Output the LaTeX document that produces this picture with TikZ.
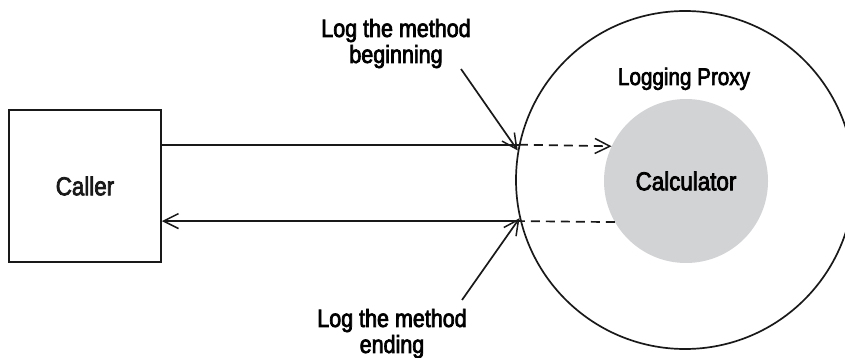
\documentclass[tikz,border=0pt]{standalone}
\usepackage{fontspec}
\setmainfont{Liberation Sans}[FakeStretch=0.86, FakeBold=2.8]
\usetikzlibrary{arrows.meta, positioning}
\definecolor{calcgray}{RGB}{210,211,213}

\begin{document}
\begin{tikzpicture}[x=1pt, y=-1pt, >={Straight Barb[length=15pt, width=15pt, line width=1.5pt]},
    line/.style={line width=1.7pt, black!90},
    dashline/.style={line, dash pattern=on 9pt off 6pt},
    lbl/.style={align=center, inner sep=0pt, font=\fontsize{25}{26}\selectfont}]
    \useasboundingbox (0,0) rectangle (845,358);

    % Caller
    \node[draw, line, minimum width=152pt, minimum height=152pt, inner sep=0pt,
          font=\fontsize{26}{28}\selectfont] (caller) at (85,186) {Caller};

    % Proxy and target
    \node[draw, line, circle, minimum size=338pt, inner sep=0pt] (proxy) at (685,180) {};
    \node[circle, fill=calcgray, minimum size=164pt, inner sep=0pt,
          font=\fontsize{26}{28}\selectfont] (calc) at (686,181) {Calculator};
    \node[lbl, anchor=base, font=\fontsize{24}{26}\selectfont] (proxylbl) at (684,85) {Logging Proxy};

    % Labels
    \node[lbl] (logbegin) at (396,43.5) {Log the method\\beginning};
    \node[lbl] (logend) at (392,333.5) {Log the method\\ending};
    \coordinate (begfoot) at (461,69);
    \coordinate (endfoot) at (462,300);

    % Call and return
    \draw[line] (caller.east |- proxy.168.7) -- (proxy.168.7);
    \draw[dashline, ->] (proxy.168.7) -- (calc.155.5);
    \draw[dashline] (calc.210) -- (proxy.194.4);
    \draw[line, ->] (proxy.194.4) -- (caller.east |- proxy.194.4);

    % Pointers
    \draw[line, ->] (begfoot) -- (proxy.170);
    \draw[line, ->] (endfoot) -- (proxy.193);
\end{tikzpicture}
\end{document}
